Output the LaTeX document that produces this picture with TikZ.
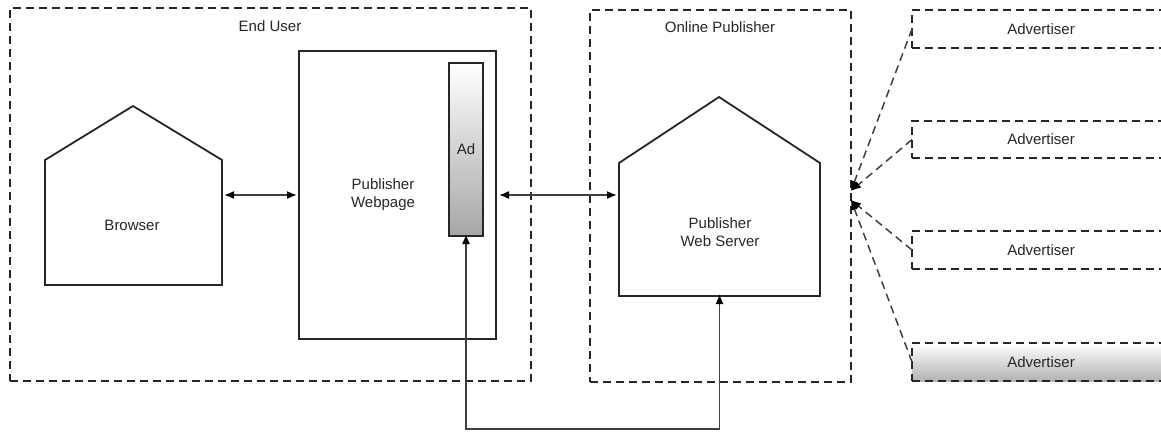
\documentclass[tikz,border=0pt]{standalone}
\usepackage{fontspec}
\setmainfont{Liberation Sans}
\usetikzlibrary{arrows.meta}
\begin{document}
\begin{tikzpicture}[x=1pt,y=-1pt,
  txt/.style={font=\fontsize{15}{18}\selectfont, text=black!85},
  lbl/.style={txt, align=center, inner sep=0pt},
  grp/.style={draw=black!85, line width=1.6pt, dash pattern=on 8pt off 5pt, anchor=north west, inner sep=0pt, outer sep=0pt},
  solidbox/.style={draw=black!85, line width=1.8pt, anchor=north west, inner sep=0pt, outer sep=0pt},
  body/.style={anchor=north west, inner sep=0pt, outer sep=0pt},
  house/.style={draw=black!85, line width=1.8pt, line join=miter},
  biconn/.style={draw=black!75, line width=1.6pt, {Latex[length=10pt,width=8pt,color=black]}-{Latex[length=10pt,width=8pt,color=black]}},
  dconn/.style={draw=black!75, line width=1.5pt, dash pattern=on 8pt off 5pt, -{Latex[length=10pt,width=8pt,color=black]}}
]
\useasboundingbox (0,0) rectangle (1161,437);
\clip (0,0) rectangle (1161,437);

% End user group
\node[grp, minimum width=521pt, minimum height=373pt] (enduser) at (10,8) {};
\node[lbl] (enduserlbl) at (270,26) {End User};

% Browser house
\node[body, minimum width=177pt, minimum height=125pt] (browser) at (45,160) {};
\coordinate (browserapex) at (133,106);
\draw[house] (browser.south west) -- (browser.north west) -- (browserapex) -- (browser.north east) -- (browser.south east) -- cycle;
\node[lbl] (browserlbl) at (132,225) {Browser};

% Publisher webpage
\node[solidbox, minimum width=197pt, minimum height=288pt] (webpage) at (299,51) {};
\node[lbl] (webpagelbl) at (383,195) {Publisher\\Webpage};
\node[solidbox, minimum width=34pt, minimum height=173pt, top color=white, bottom color=black!35, txt] (ad) at (449,63) {Ad};

% Online publisher group
\node[grp, minimum width=261pt, minimum height=372pt] (pubgroup) at (590,10) {};
\node[lbl] (pubgrouplbl) at (720,27) {Online Publisher};

% Server house
\node[body, minimum width=201pt, minimum height=133pt] (server) at (619,163) {};
\coordinate (serverapex) at (719,97);
\draw[house] (server.south west) -- (server.north west) -- (serverapex) -- (server.north east) -- (server.south east) -- cycle;
\node[lbl] (serverlbl) at (720,232) {Publisher\\Web Server};

% Advertisers
\node[grp, minimum width=258pt, minimum height=38pt, txt] (adv1) at (912,10) {Advertiser};
\node[grp, minimum width=258pt, minimum height=37pt, txt] (adv2) at (912,121) {Advertiser};
\node[grp, minimum width=258pt, minimum height=38pt, txt] (adv3) at (912,231) {Advertiser};
\node[grp, minimum width=258pt, minimum height=38pt, top color=white, bottom color=black!30, txt] (adv4) at (912,343) {Advertiser};

% Connectors
\draw[biconn] ([xshift=2pt]browser.east |- webpage.west) -- ([xshift=-2pt]webpage.west);
\draw[biconn] ([xshift=3pt]webpage.east) -- ([xshift=-2pt]server.west |- webpage.east);
\draw[biconn] ([yshift=2pt]ad.south) -- ++(0,195) -| ([yshift=2pt]server.south);

\coordinate (t1) at (851,191);
\coordinate (t2) at (851,200);
\draw[dconn] (adv1.west) -- (t1);
\draw[dconn] (adv2.west) -- (t1);
\draw[dconn] (adv3.west) -- (t2);
\draw[dconn] (adv4.west) -- (t2);
\end{tikzpicture}
\end{document}
